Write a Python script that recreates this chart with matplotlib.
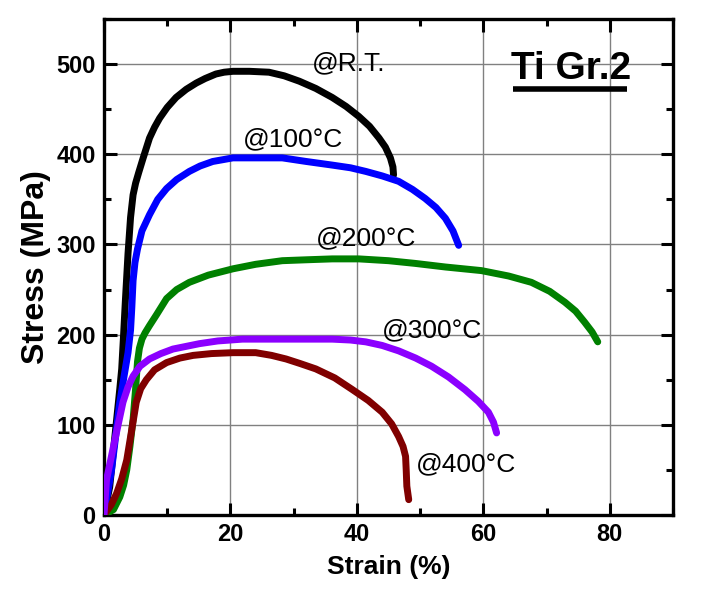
import matplotlib
matplotlib.use("Agg")
import matplotlib.pyplot as plt
from matplotlib.ticker import MultipleLocator

plt.rcParams['font.family'] = ['Liberation Sans', 'DejaVu Sans']

# Strain (%) / Stress (MPa) curves
rt_x = [0, 0.9, 2.0, 2.5, 2.8, 3.1, 3.4, 3.8, 4.2, 4.6, 5.0, 5.5, 6.2, 7.2, 8.0, 8.8, 10.0, 11.4, 13.0, 14.6, 16.0, 17.7, 19.0,
        20.4, 23.0, 26.1, 28.5, 30.9, 33.5, 36.1, 38.3, 40.3, 42.0, 43.5, 44.5, 45.3, 45.7, 45.8]
rt_y = [0, 31, 106, 140, 162, 200, 240, 290, 330, 355, 368, 380, 396, 418, 430, 440, 452, 463, 472, 479, 484, 489, 491,
        492, 492, 491, 487, 481, 473, 463, 453, 442, 431, 418, 408, 396, 386, 377]

t100_x = [0, 0.4, 1.2, 2.5, 3.2, 3.8, 4.2, 4.4, 4.6, 4.9, 5.3, 6.0, 7.2, 8.5, 9.9, 11.5, 13.5, 15.2, 17.2, 18.8, 20.4, 24,
          28.2, 32, 36.1, 39, 41.4, 44, 46.6, 48.8, 50.8, 52.5, 54.0, 55.2, 56.1]
t100_y = [0, 17, 50, 125, 155, 180, 205, 230, 260, 280, 295, 315, 333, 350, 362, 372, 381, 387, 392, 394, 396, 396,
          396, 392, 388, 385, 381, 376, 370, 361, 351, 341, 329, 315, 299]

t200_x = [0, 1.5, 2.5, 3.1, 3.6, 4.1, 4.6, 5.0, 5.3, 5.6, 6.0, 6.5, 7.2, 8.3, 9.9, 11.5, 13.5, 16.5, 20.4, 24, 28.2, 32,
          36.1, 40.3, 45, 49.2, 54, 59.7, 64, 67.6, 70.5, 72.9, 74.6, 76.0, 77.2, 78.1]
t200_y = [0, 6, 20, 33, 50, 76, 106, 140, 170, 185, 195, 202, 210, 222, 240, 250, 258, 266, 273, 278, 282, 283,
          284, 284, 282, 279, 275, 271, 265, 258, 248, 236, 226, 214, 203, 192]

t300_x = [0, 0.4, 1.5, 3.0, 3.8, 4.6, 5.7, 7.2, 9.0, 10.9, 13, 15.1, 18, 21.9, 29, 36.1, 39, 41.4, 44, 46.6, 49.3, 51.8,
          54.5, 57.1, 59.2, 60.8, 61.6, 62.1]
t300_y = [0, 39, 76, 125, 142, 154, 165, 173, 179, 184, 187, 190, 193, 195, 195, 195, 194, 192, 188, 182, 174, 165,
          153, 139, 126, 114, 103, 91]

t400_x = [0, 0.4, 1.2, 2.0, 2.8, 3.6, 4.0, 4.4, 4.8, 5.1, 5.8, 6.7, 8.0, 9.9, 12, 14.1, 17, 20.4, 24.0, 26.5, 28.8, 31,
          33.5, 36.5, 39.3, 41.8, 44.0, 45.5, 46.6, 47.3, 47.7, 47.8, 47.9, 48.2]
t400_y = [0, 4, 12, 24, 40, 61, 78, 95, 112, 125, 140, 150, 161, 169, 174, 177, 179, 180, 180, 177, 173, 168,
          162, 152, 139, 127, 114, 101, 87, 76, 65, 50, 32, 17]

labels = ["@R.T.", "@100\u00b0C", "@200\u00b0C", "@300\u00b0C", "@400\u00b0C"]
label_x = [32.9, 21.9, 33.5, 44.0, 49.3]
label_y = [493, 409, 299, 197, 48]

x_ticks = [0, 20, 40, 60, 80]
y_ticks = [0, 100, 200, 300, 400, 500]

fig = plt.figure(figsize=(7.01, 5.99), dpi=100)
ax = fig.add_axes([104/701, 1-515/599, (673-104)/701, (515-19)/599])

ax.grid(True, color='#808080', lw=1.0, zorder=0)
ax.set_axisbelow(True)

series = [
    (rt_x, rt_y, 'black'),
    (t100_x, t100_y, '#0000FF'),
    (t200_x, t200_y, '#008000'),
    (t400_x, t400_y, '#800000'),
    (t300_x, t300_y, '#8B00FF'),
]
for xs, ys, c in series:
    ax.plot(xs, ys, color=c, lw=5.0, solid_capstyle='round', solid_joinstyle='round', zorder=3)

for t, x, y in zip(labels, label_x, label_y):
    ax.text(x, y, t, fontsize=19, va='baseline', ha='left', color='black', zorder=4)

ax.text(64.3, 483, "Ti Gr.2", fontsize=28, fontweight='bold', va='baseline', ha='left', zorder=4)
ax.plot([0.7185, 0.92], [0.858, 0.858], transform=ax.transAxes, color='black', lw=4.0,
        solid_capstyle='butt', zorder=4)

ax.set_xlim(0, 90)
ax.set_ylim(0, 550)
ax.set_xticks(x_ticks)
ax.set_yticks(y_ticks)
ax.xaxis.set_minor_locator(MultipleLocator(10))
ax.yaxis.set_minor_locator(MultipleLocator(50))
ax.tick_params(which='both', direction='in', top=True, right=True, width=2.2, labelsize=17, pad=6)
ax.tick_params(which='major', length=9)
ax.tick_params(which='minor', length=5)
for lab in ax.get_xticklabels() + ax.get_yticklabels():
    lab.set_fontweight('bold')
for sp in ax.spines.values():
    sp.set_linewidth(2.4)

ax.set_xlabel("Strain (%)", fontsize=19, fontweight='bold', labelpad=6)
ax.set_ylabel("Stress (MPa)", fontsize=23, fontweight='bold', labelpad=4)

fig.savefig("out.png", dpi=100)
